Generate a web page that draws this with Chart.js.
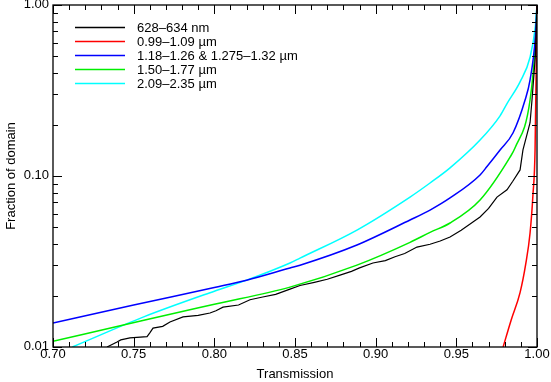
<!DOCTYPE html>
<html>
<head>
<meta charset="utf-8">
<script src="https://cdn.jsdelivr.net/npm/chart.js@4.4.0/dist/chart.umd.min.js"></script>
<style>
html,body{margin:0;padding:0;background:#fff;}
#wrap{width:551px;height:382px;position:relative;}
</style>
</head>
<body>
<div id="wrap"><canvas id="c" width="551" height="382"></canvas></div>
<script>
// ---- data ----
const seriesLabels = ["628\u2013634 nm", "0.99\u20131.09 \u00b5m", "1.18\u20131.26 & 1.275\u20131.32 \u00b5m", "1.50\u20131.77 \u00b5m", "2.09\u20132.35 \u00b5m"];

const T_black = [0.7335,0.7397,0.7420,0.7477,0.7583,0.7600,0.7620,0.7680,0.7725,0.7806,0.7900,0.7973,0.8010,0.8054,0.8150,0.8221,0.8300,0.8380,0.8469,0.8531,0.8620,0.8700,0.8779,0.8850,0.8900,0.8983,0.9060,0.9120,0.9180,0.9256,0.9337,0.9400,0.9461,0.9530,0.9603,0.9647,0.9700,0.9752,0.9814,0.9850,0.9895,0.9913,0.9957,0.9969,0.9990,1.0000];
const F_black = [0.0100,0.0107,0.0110,0.0113,0.0115,0.0121,0.0129,0.0132,0.0140,0.0150,0.0153,0.0158,0.0163,0.0171,0.0176,0.0189,0.0196,0.0203,0.0218,0.0229,0.0239,0.0249,0.0263,0.0277,0.0290,0.0310,0.0320,0.0337,0.0352,0.0384,0.0399,0.0417,0.0440,0.0481,0.0538,0.0576,0.0646,0.0753,0.0831,0.0932,0.1085,0.1420,0.2048,0.2782,0.5051,1.0000];

const T_red = [0.9790,0.9840,0.9895,0.9930,0.9957,0.9975,0.9988,1.0000];
const F_red = [0.0100,0.0144,0.0208,0.0305,0.0464,0.0779,0.1420,1.0000];

const T_blue = [0.7000,0.7500,0.8000,0.8200,0.8469,0.8531,0.8884,0.9213,0.9337,0.9461,0.9647,0.9690,0.9771,0.9851,0.9926,0.9957,0.9990,1.0000];
const F_blue = [0.0138,0.0176,0.0223,0.0246,0.0290,0.0301,0.0395,0.0553,0.0632,0.0744,0.1014,0.1136,0.1420,0.1785,0.2782,0.3654,0.6540,1.0000];

const T_green = [0.7000,0.7570,0.8000,0.8469,0.8884,0.9213,0.9337,0.9461,0.9647,0.9833,0.9864,0.9957,0.9990,1.0000];
const F_green = [0.0108,0.0144,0.0178,0.0224,0.0301,0.0409,0.0468,0.0531,0.0724,0.1289,0.1461,0.2782,0.6045,1.0000];

const T_cyan = [0.7120,0.7570,0.8000,0.8200,0.8469,0.8531,0.8884,0.9213,0.9337,0.9461,0.9647,0.9771,0.9814,0.9895,0.9957,0.9990,1.0000];
const F_cyan = [0.0100,0.0151,0.0212,0.0246,0.0310,0.0331,0.0483,0.0753,0.0910,0.1116,0.1623,0.2249,0.2652,0.3554,0.4951,0.7532,1.0000];

const xTickLabels = ["0.70","0.75","0.80","0.85","0.90","0.95","1.00"];
const yTickLabels = ["0.01","0.10","1.00"];
const xTitle = "Transmission";
const yTitle = "Fraction of domain";

// ---- build chart ----
function pts(T, F){ return T.map((t,i)=>({x:t, y:F[i]})); }
const colors = ["#000000","#ff0000","#0000ff","#00ee00","#00ffff"];
const seriesT = [T_black, T_red, T_blue, T_green, T_cyan];
const seriesF = [F_black, F_red, F_blue, F_green, F_cyan];

const datasets = seriesLabels.map((lab,i)=>({
  label: lab,
  data: pts(seriesT[i], seriesF[i]),
  borderColor: colors[i],
  backgroundColor: colors[i],
  borderWidth: i===0 ? 1.2 : 1.5,
  pointRadius: 0,
  fill: false,
  tension: 0,
  cubicInterpolationMode: i===0 ? 'default' : 'monotone'
}));

const FONT = '"Liberation Sans", Arial, Helvetica, sans-serif';

const tickPlugin = {
  id: 'inwardTicks',
  afterDraw(chart){
    const ctx = chart.ctx, a = chart.chartArea;
    const xs = chart.scales.x, ys = chart.scales.y;
    ctx.save();
    ctx.strokeStyle = '#000';
    ctx.lineWidth = 1;
    ctx.beginPath();
    for(let k=70;k<=100;k++){
      const px = Math.round(xs.getPixelForValue(k/100)) + 0.5;
      const len = (k % 5 === 0) ? 9 : 5;
      ctx.moveTo(px, a.bottom); ctx.lineTo(px, a.bottom - len);
      ctx.moveTo(px, a.top); ctx.lineTo(px, a.top + len);
    }
    for(let n=-2;n<=0;n++){
      for(let m=1;m<=9;m++){
        const v = m*Math.pow(10,n);
        if (v > 1.0001) break;
        const py = Math.round(ys.getPixelForValue(v)) + 0.5;
        const len = (m===1) ? 9 : 5;
        ctx.moveTo(a.left, py); ctx.lineTo(a.left + len, py);
        ctx.moveTo(a.right, py); ctx.lineTo(a.right - len, py);
      }
    }
    ctx.stroke();
    ctx.lineWidth = 1.3;
    ctx.strokeRect(a.left, a.top, a.right - a.left, a.bottom - a.top);
    ctx.font = '13px ' + FONT;
    ctx.textBaseline = 'middle';
    ctx.textAlign = 'left';
    chart.data.datasets.forEach((ds,i)=>{
      const y = 27 + i*14;
      ctx.strokeStyle = ds.borderColor;
      ctx.lineWidth = 1.5;
      ctx.beginPath();
      ctx.moveTo(75, y + 0.5); ctx.lineTo(125, y + 0.5);
      ctx.stroke();
      ctx.fillStyle = '#000';
      ctx.fillText(ds.label, 137, y + 1);
    });
    ctx.restore();
  }
};

new Chart(document.getElementById('c'), {
  type: 'line',
  data: { datasets },
  plugins: [tickPlugin],
  options: {
    responsive: false,
    animation: false,
    devicePixelRatio: 1,
    layout: { padding: { top: 5, right: 14, left: 0, bottom: 0 } },
    plugins: { legend: { display: false }, tooltip: { enabled: false } },
    scales: {
      x: {
        type: 'linear',
        min: 0.70, max: 1.00,
        afterFit(s){ s.height = 35; s.paddingLeft = 0; s.paddingRight = 0; },
        afterBuildTicks(s){ s.ticks = xTickLabels.map(t=>({value: parseFloat(t)})); },
        ticks: {
          color: '#000', font: { family: FONT, size: 13 }, padding: 0,
          maxRotation: 0, autoSkip: false,
          callback: (v)=> Number(v).toFixed(2)
        },
        grid: { display: false, drawTicks: false },
        border: { display: false },
        title: { display: true, text: xTitle, color: '#000', font: { family: FONT, size: 13 }, padding: { top: 0, bottom: 0 } }
      },
      y: {
        type: 'logarithmic',
        min: 0.01, max: 1.0,
        afterFit(s){ s.width = 53; s.paddingTop = 0; s.paddingBottom = 0; },
        afterBuildTicks(s){ s.ticks = yTickLabels.map(t=>({value: parseFloat(t)})); },
        ticks: {
          color: '#000', font: { family: FONT, size: 13 }, padding: 4,
          autoSkip: false, labelOffset: -1,
          callback: (v)=> Number(v).toFixed(2)
        },
        grid: { display: false, drawTicks: false },
        border: { display: false },
        title: { display: true, text: yTitle, color: '#000', font: { family: FONT, size: 13 }, padding: { top: 4, bottom: 2 } }
      }
    }
  }
});
</script>
</body>
</html>
